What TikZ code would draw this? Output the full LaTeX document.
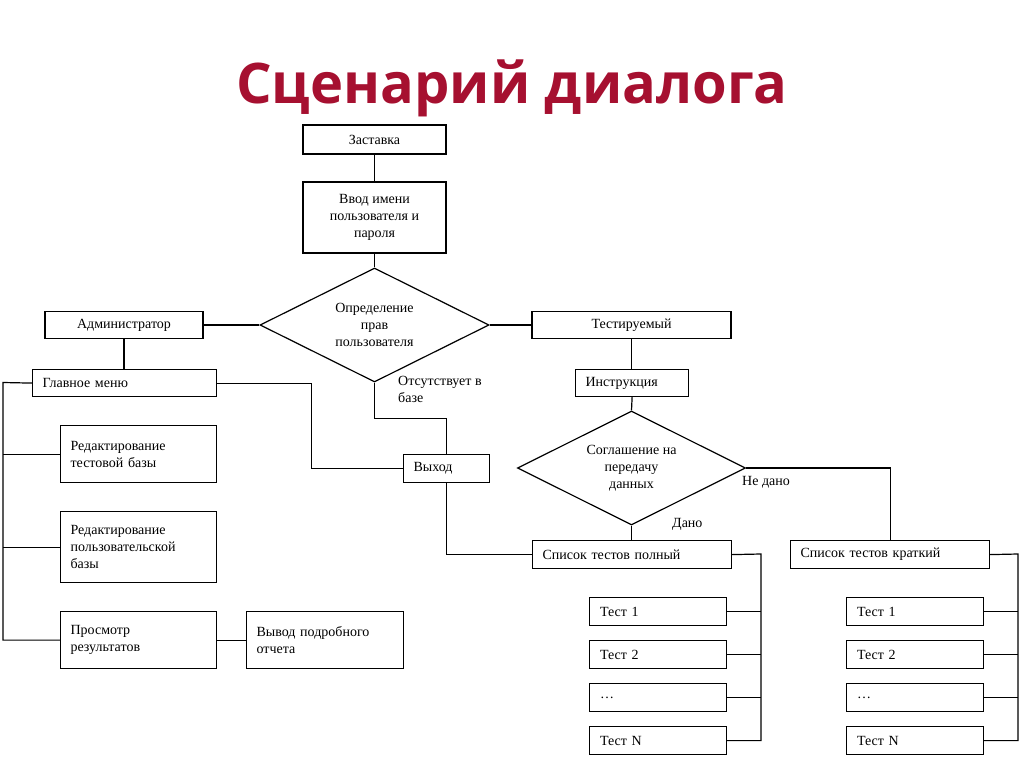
\documentclass[tikz,border=0pt]{standalone}
\usepackage{fontspec}
\setmainfont{Liberation Serif}
\newfontfamily\titlefont{Open Sans}
\usetikzlibrary{shapes.geometric,positioning}
\definecolor{titlered}{RGB}{166,16,48}

\begin{document}
\begin{tikzpicture}[x=1pt,y=-1pt,
  box/.style={draw,line width=1.2pt,inner sep=0pt,font=\fontsize{14}{17}\selectfont,align=center},
  lbox/.style={box,align=left,inner xsep=10pt,anchor=north west},
  dia/.style={draw,line width=1.2pt,diamond,aspect=2,inner sep=0pt,font=\fontsize{14}{17}\selectfont,align=center},
  lab/.style={font=\fontsize{14}{17}\selectfont,align=left,anchor=north west,inner sep=0pt},
  link/.style={line width=1.2pt}]
\useasboundingbox (0,0) rectangle (1024,767);
%title
\node[font=\titlefont\bfseries\fontsize{56}{60}\selectfont,text=titlered,anchor=base] (title) at (512,104) {Сценарий диалога};
%login part
\node[box,minimum width=143,minimum height=29] (zast) at (374.5,139.5) {Заставка};
\node[box,minimum width=143,minimum height=71] (vvod) at (374.5,217.5) {Ввод имени\\пользователя и\\пароля};
\node[dia,minimum width=229,minimum height=114] (opred) at (374.5,325) {Определение\\прав\\пользователя};
\node[box,minimum width=158,minimum height=27] (admin) at (124,325) {Администратор};
\node[box,minimum width=199,minimum height=27] (tested) at (631.5,325) {Тестируемый};
%admin menu
\node[lbox,minimum width=184,minimum height=27,text width=164pt] (menu) at (32,369) {Главное меню};
\node[lbox,minimum width=156,minimum height=57,text width=136pt] (redtest) at (60,425) {Редактирование\\тестовой базы};
\node[lbox,minimum width=156,minimum height=71,text width=136pt] (redpol) at (60,511) {Редактирование\\пользовательской\\базы};
\node[lbox,minimum width=156,minimum height=57,text width=136pt] (prosm) at (60,611) {Просмотр\\результатов};
\node[lbox,minimum width=157,minimum height=57,text width=137pt] (vyvod) at (246,611) {Вывод подробного\\отчета};
\node[lbox,minimum width=86,minimum height=28,text width=66pt] (exit) at (403,454) {Выход};
%tested user
\node[lbox,minimum width=113,minimum height=27,text width=93pt] (instr) at (575,369) {Инструкция};
\node[dia,minimum width=228,minimum height=114] (sogl) at (631.5,468) {Соглашение на\\передачу\\данных};
\node[lbox,minimum width=199,minimum height=28,text width=179pt] (full) at (532,540) {Список тестов полный};
\node[lbox,minimum width=199,minimum height=28,text width=179pt] (short) at (790,540) {Список тестов краткий};
%test lists
\foreach \t/\y/\n in {Тест 1/597/1,Тест 2/640/2,\dots/683/3,Тест N/726/4}{
  \node[lbox,minimum width=137,minimum height=28,text width=116pt] (f\n) at (589,\y) {\t};
  \node[lbox,minimum width=137,minimum height=28,text width=116pt] (s\n) at (846,\y) {\t};
}
%labels
\node[lab] (absent) at (398,376) {Отсутствует в\\базе};
\node[lab] (given) at (672,518) {Дано};
\node[lab] (notgiven) at (742,476) {Не дано};
%bus coordinates
\coordinate (bus) at (3,382.5);
\coordinate (fbus) at (761,554);
\coordinate (sbus) at (1018,554);
%connectors
\draw[link] (zast) -- (vvod);
\draw[link] (vvod) -- (opred);
\draw[link] (opred.west) -- (admin.east);
\draw[link] (opred.east) -- (tested.west);
\draw[link] (admin.south) -- (admin.south |- menu.north);
\draw[link] (tested.south) -- (tested.south |- instr.north);
\draw[link] (instr.south) -- (sogl.north);
\draw[link] (opred.south) -- ++(0,36) -| (exit.north);
\draw[link] (menu.east) -- ++(94,0) |- (exit.west);
\draw[link] (menu.west) -- (bus) |- (prosm.west);
\draw[link] (redtest.west) -- (redtest.west -| bus);
\draw[link] (redpol.west) -- (redpol.west -| bus);
\draw[link] (prosm) -- (vyvod);
\draw[link] (exit.south) |- (full.west);
\draw[link] (sogl.south) -- (sogl.south |- full.north);
\draw[link] (sogl.east) -| (short.north);
\draw[link] (full.east) -- (fbus) |- (f4.east);
\draw[link] (short.east) -- (sbus) |- (s4.east);
\foreach \n in {1,2,3}{
  \draw[link] (f\n.east) -- (f\n.east -| fbus);
  \draw[link] (s\n.east) -- (s\n.east -| sbus);
}
\end{tikzpicture}
\end{document}
